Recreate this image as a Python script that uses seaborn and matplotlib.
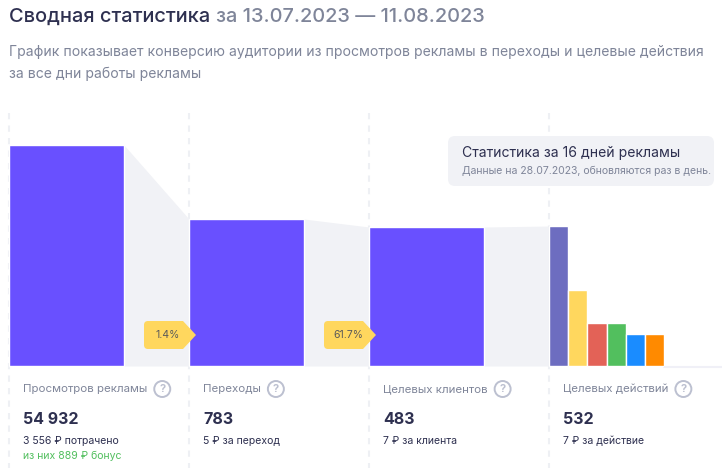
import matplotlib

matplotlib.use("Agg")

import matplotlib.pyplot as plt
import seaborn as sns
from matplotlib.patches import Circle, FancyBboxPatch, PathPatch
from matplotlib.path import Path

W, H = 722, 468
BASE_Y = 366

FUNNEL_LABELS = ["Просмотров рекламы", "Переходы", "Целевых клиентов"]
FUNNEL_HEIGHTS = [221, 147, 139]
ACTION_LABELS = ["a1", "a2", "a3", "a4", "a5", "a6"]
ACTION_HEIGHTS = [140, 76, 43, 43, 32, 32]
ACTION_COLORS = ["#6d6dc0", "#ffd75e", "#e36257", "#52bf5e", "#1a8cff", "#ff8a00"]
CONVERSIONS = ["1.4%", "61.7%"]

COLUMN_TITLES = ["Просмотров рекламы", "Переходы", "Целевых клиентов", "Целевых действий"]
COLUMN_TOTALS = ["54 932", "783", "483", "532"]
COLUMN_NOTES = ["3 556 ₽ потрачено", "5 ₽ за переход", "7 ₽ за клиента", "7 ₽ за действие"]
BONUS_NOTE = "из них 889 ₽ бонус"

INK = "#2e3050"
GREY = "#7f8599"
SOFT = "#f1f2f6"
PURPLE = "#6950ff"
YELLOW = "#ffd75e"

sns.set_theme(style="white")
plt.rcParams["font.family"] = ["Inter", "DejaVu Sans"]


def px_axes(fig, zorder):
    ax = fig.add_axes([0, 0, 1, 1], zorder=zorder)
    ax.set_xlim(0, W)
    ax.set_ylim(H, 0)
    ax.axis("off")
    return ax


def px_text(ax, x, y, s, size, color, **kw):
    # size is in screen pixels, figure is at 100 dpi
    return ax.text(x, y, s, fontsize=size * 0.72, color=color, va="center", **kw)


def callout(ax, left, top, bottom, tip, label):
    mid = (top + bottom) / 2
    r = 4
    shoulder = tip - 13
    verts = [
        (left + r, top), (shoulder, top), (tip, mid), (shoulder, bottom), (left + r, bottom),
        (left, bottom), (left, bottom - r), (left, top + r), (left, top), (left + r, top),
    ]
    codes = [
        Path.MOVETO, Path.LINETO, Path.LINETO, Path.LINETO, Path.LINETO,
        Path.CURVE3, Path.CURVE3, Path.LINETO, Path.CURVE3, Path.CURVE3,
    ]
    ax.add_patch(PathPatch(Path(verts, codes), fc=YELLOW, ec="none"))
    px_text(ax, left + 24, mid, label, 10.5, "#5a5a5a", ha="center")


fig = plt.figure(figsize=(W / 100, H / 100), dpi=100, facecolor="white")

# dashed column guides sit under everything
back = px_axes(fig, 0)
for x in [9, 189, 369, 549]:
    back.plot([x, x], [113, H], color="#eef0f4", lw=1.5, ls=(0, (3, 3)))
back.plot([664, W], [366.5, 366.5], color="#f0f0f7", lw=1.5)

# funnel: one category slot is 180 px, y unit is 1 px above the baseline
slot, bar_w = 180, 115
funnel = fig.add_axes([0, 0, 1, 1], zorder=1)
funnel.patch.set_alpha(0)
sns.barplot(x=FUNNEL_LABELS, y=FUNNEL_HEIGHTS, color=PURPLE, saturation=1,
            width=bar_w / slot, ax=funnel)
tops = FUNNEL_HEIGHTS + ACTION_HEIGHTS[:1]
half = bar_w / slot / 2
for i in range(len(FUNNEL_HEIGHTS)):
    funnel.fill_between([i + half, i + 1 - half], [tops[i], tops[i + 1]], 0,
                        color=SOFT, lw=0, zorder=0)
funnel.set_xlim(-66.5 / slot, (W - 66.5) / slot)
funnel.set_ylim(BASE_Y - H, BASE_Y)
funnel.axis("off")

# six action bars share the same pixel scale
actions = fig.add_axes([549 / W, 0, 115 / W, 1], zorder=2)
actions.patch.set_alpha(0)
sns.barplot(x=ACTION_LABELS, y=ACTION_HEIGHTS, hue=ACTION_LABELS, palette=ACTION_COLORS,
            saturation=1, width=1, legend=False, ax=actions)
actions.set_xlim(-0.5, 5.5)
actions.set_ylim(BASE_Y - H, BASE_Y)
actions.axis("off")

top = px_axes(fig, 3)

head = px_text(top, 9, 17, "Сводная статистика", 20, INK, fontweight="medium")
fig.canvas.draw()
head_end = head.get_window_extent().x1
px_text(top, head_end + 6, 17, "за 13.07.2023 — 11.08.2023", 20, GREY, fontweight="medium")
px_text(top, 9, 52, "График показывает конверсию аудитории из просмотров рекламы в переходы и целевые действия",
        14, GREY)
px_text(top, 9, 74, "за все дни работы рекламы", 14, GREY)

top.add_patch(FancyBboxPatch((455, 143), 252, 36, boxstyle="round,pad=7,rounding_size=7",
                             fc=SOFT, ec="none"))
px_text(top, 462, 153, "Статистика за 16 дней рекламы", 14, INK)
px_text(top, 462, 171, "Данные на 28.07.2023, обновляются раз в день.", 10.5, GREY)

callout(top, 144, 321, 349, 196, CONVERSIONS[0])
callout(top, 324, 321, 349, 376, CONVERSIONS[1])

for i, x in enumerate([23, 203, 383, 563]):
    label = px_text(top, x, 389, COLUMN_TITLES[i], 11.5, GREY)
    fig.canvas.draw()
    end = label.get_window_extent().x1
    top.add_patch(Circle((end + 15, 389), 8, fc="white", ec="#bcc0d0", lw=1.4))
    px_text(top, end + 15, 389, "?", 11, "#bcc0d0", ha="center", fontweight="bold")
    px_text(top, x, 419, COLUMN_TOTALS[i], 16, INK, fontweight="bold")
    px_text(top, x, 441, COLUMN_NOTES[i], 10.5, INK)
px_text(top, 23, 456, BONUS_NOTE, 10.5, "#52bf5e")

fig.savefig("out.png", dpi=100)
plt.close(fig)
